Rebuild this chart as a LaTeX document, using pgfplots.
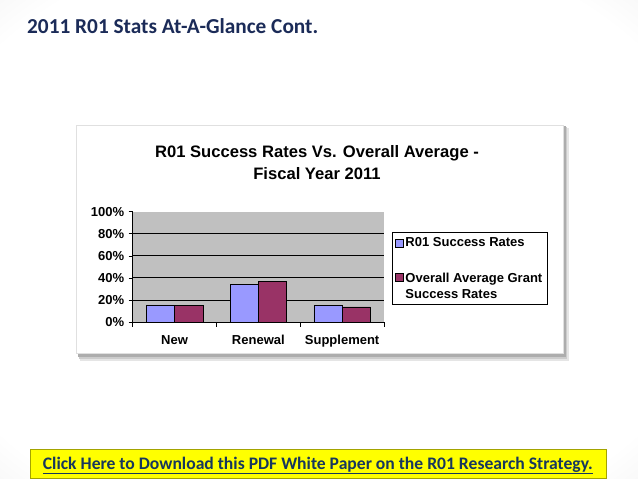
\documentclass[border=0pt]{standalone}
\usepackage{pgfplots}
\pgfplotsset{compat=1.18}
\usepackage{fontspec}
\setmainfont{Liberation Sans}
\newfontfamily\calibri{Carlito}
\definecolor{navy}{HTML}{1B2B58}
\definecolor{linknavy}{HTML}{17375E}
\definecolor{barblue}{HTML}{9999FF}
\definecolor{barred}{HTML}{993366}
\definecolor{plotgray}{HTML}{C0C0C0}
\definecolor{btnyellow}{HTML}{FFFF00}
\pgfdeclareradialshading{vign}{\pgfpoint{0bp}{0bp}}{color(0bp)=(white); color(32bp)=(white); color(52bp)=(black!14); color(75bp)=(black!24)}
\begin{document}
\begin{tikzpicture}[x=1pt,y=1pt]
% slide background
\shade[shading=vign] (0,0) rectangle (638,479);
% chart frame with shadow
\fill[black!10] (80,118) rectangle (569,351);
\fill[black!20] (79,120) rectangle (567,352);
\fill[black!32] (78,122) rectangle (565.5,353);
\fill[white] (76,126) rectangle (563,354);
\draw[black!12] (76,126) rectangle (563,354);
% chart title
\node[font=\bfseries\fontsize{16.6}{16.6}\selectfont] at (317,326) {R01 Success Rates Vs. Overall Average -};
\node[font=\bfseries\fontsize{16.6}{16.6}\selectfont] at (317,305) {Fiscal Year 2011};
\begin{axis}[
  at={(132.7pt,157pt)}, anchor=south west,
  scale only axis, width=251.3pt, height=110.3pt,
  xmin=-0.5, xmax=2.5, ymin=0, ymax=100,
  ybar=0pt, bar width=28.3pt,
  axis background/.style={fill=plotgray},
  axis x line*=bottom, axis y line*=left,
  axis line style={-, black, line width=0.8pt},
  xtick={0,1,2}, xticklabels={New,Renewal,Supplement},
  major x tick style={draw=none},
  minor xtick={-0.5,0.5,1.5,2.5},
  minor x tick style={black, line width=0.6pt},
  minor tick length=5pt,
  ytick={0,20,40,60,80}, yticklabels={0\%,20\%,40\%,60\%,80\%},
  extra y ticks={100}, extra y tick labels={100\%},
  extra y tick style={grid=none},
  ymajorgrids, grid style={black, line width=0.8pt},
  tick align=outside, major tick length=4pt,
  major y tick style={black, line width=0.6pt},
  tick label style={font=\bfseries\fontsize{13}{13}\selectfont},
  xticklabel style={yshift=-6pt},
  yticklabel style={xshift=-1pt},
  legend style={at={(1.0306,0.813)}, anchor=north west, draw=black, line width=0.6pt,
    font=\bfseries\fontsize{13}{15.4}\selectfont, fill=white,
    cells={anchor=west, align=left}, row sep=21pt, inner xsep=3pt, inner ysep=3pt},
]
\addplot[fill=barblue, draw=black, line width=0.6pt,
  legend image code/.code={\draw[fill=barblue,draw=black,line width=0.5pt] (0pt,-4pt) rectangle (8pt,4pt);}] coordinates {(0,15.5) (1,34) (2,14.8)};
\addplot[fill=barred, draw=black, line width=0.6pt,
  legend image code/.code={\draw[fill=barred,draw=black,line width=0.5pt] (0pt,5pt) rectangle (8pt,13pt);}] coordinates {(0,15.3) (1,37) (2,13.6)};
\legend{R01 Success Rates, Overall Average Grant\\Success Rates}
\end{axis}
% slide title
\node[anchor=base west, text=navy, font=\calibri\bfseries\fontsize{21.3}{21.3}\selectfont, inner sep=0pt] at (27,445.7) {2011 R01 Stats At-A-Glance Cont.};
% download button
\fill[btnyellow] (30.7,0.7) rectangle (606.3,29.7);
\draw[black!20!btnyellow!80!black, line width=0.6pt] (30.7,0.7) rectangle (606.3,29.7);
\node[anchor=base west, text=linknavy, font=\calibri\bfseries\fontsize{17.6}{17.6}\selectfont, inner sep=0pt] at (42.7,9.7) {\underline{Click Here to Download this PDF White Paper on the R01 Research Strategy.}};
\end{tikzpicture}
\end{document}
